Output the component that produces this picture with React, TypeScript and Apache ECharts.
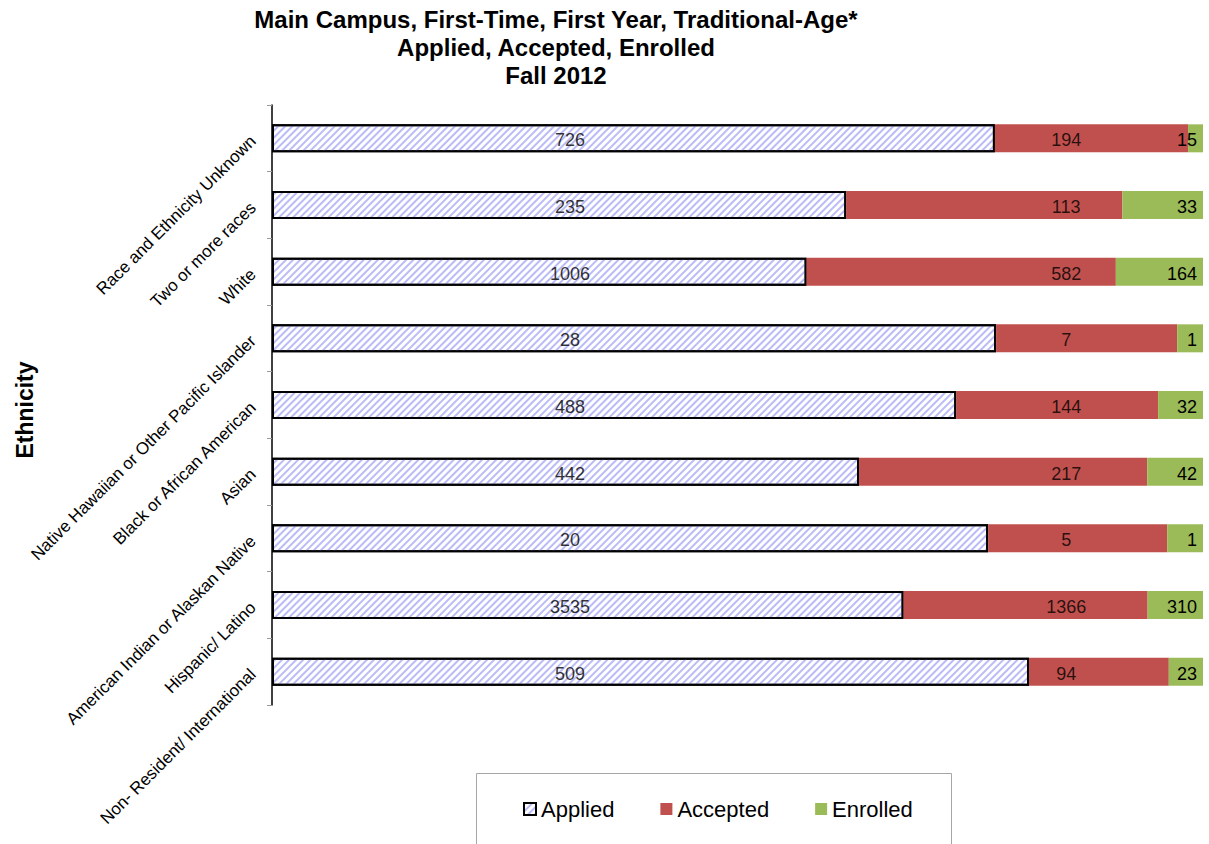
import React, { useEffect, useRef } from "react";
import * as echarts from "echarts";

const categories = [
  "Non- Resident/ International",
  "Hispanic/ Latino",
  "American Indian or Alaskan Native",
  "Asian",
  "Black or African American",
  "Native Hawaiian or Other Pacific Islander",
  "White",
  "Two or more races",
  "Race and Ethnicity Unknown",
];
const applied = [509, 3535, 20, 442, 488, 28, 1006, 235, 726];
const accepted = [94, 1366, 5, 217, 144, 7, 582, 113, 194];
const enrolled = [23, 310, 1, 42, 32, 1, 164, 33, 15];
const titleLines = [
  "Main Campus, First-Time, First Year, Traditional-Age*",
  "Applied, Accepted, Enrolled",
  "Fall 2012",
];
const axisTitle = "Ethnicity";

const FONT = "'Liberation Sans', Arial, sans-serif";

export default function App() {
  const ref = useRef<HTMLDivElement>(null);
  useEffect(() => {
    if (!ref.current) return;
    const chart = echarts.init(ref.current, null, { renderer: "svg" });
    const totals = categories.map((_, i) => applied[i] + accepted[i] + enrolled[i]);
    const pct = (arr: number[]) => arr.map((v, i) => (v / totals[i]) * 100);
    const APPLIED_LABEL_X = 32.0;
    const ACCEPTED_LABEL_X = 85.3;
    const labelStyle = {
      show: true,
      fontSize: 18,
      color: "#000",
      fontFamily: FONT,
    };
    chart.setOption({
      animation: false,
      textStyle: { fontFamily: FONT },
      grid: { left: 272, right: 6, top: 105, bottom: 139, containLabel: false },
      xAxis: { type: "value", min: 0, max: 100, show: false },
      yAxis: {
        type: "category",
        data: categories,
        axisLine: { show: true, lineStyle: { color: "#000", width: 1.5 } },
        axisTick: { show: true, length: 5, lineStyle: { color: "#999" } },
        axisLabel: { rotate: 45, margin: 19, fontSize: 17, color: "#000", fontFamily: FONT },
      },
      legend: {
        data: ["Applied", "Accepted", "Enrolled"],
        icon: "rect",
        left: 518,
        top: 793,
        itemWidth: 12,
        itemHeight: 12,
        itemGap: 46,
        textStyle: { fontSize: 22, color: "#000", fontFamily: FONT },
      },
      graphic: [
        {
          type: "text",
          x: 556,
          y: 5,
          style: {
            text: titleLines.join("\n"),
            textAlign: "center",
            font: "bold 24px 'Liberation Sans', Arial, sans-serif",
            lineHeight: 28,
            fill: "#000",
          },
        },
        {
          type: "text",
          x: 25,
          y: 410,
          rotation: Math.PI / 2,
          style: {
            text: axisTitle,
            textAlign: "center",
            textVerticalAlign: "middle",
            font: "bold 23px 'Liberation Sans', Arial, sans-serif",
            fill: "#000",
          },
        },
        {
          type: "rect",
          shape: { x: 476.5, y: 773.5, width: 475, height: 90 },
          style: { fill: "none", stroke: "#a6a6a6", lineWidth: 1 },
          z: -1,
        },
      ],
      series: [
        {
          name: "Applied",
          type: "bar",
          stack: "t",
          barWidth: 28,
          data: pct(applied),
          itemStyle: {
            color: "#ffffff",
            borderColor: "#000",
            borderWidth: 2,
            decal: {
              symbol: "rect",
              symbolSize: 1,
              dashArrayX: [1, 0],
              dashArrayY: [1.3, 2.2],
              rotation: -Math.PI / 4,
              color: "rgba(130,130,240,0.55)",
            },
          },
        },
        {
          name: "Accepted",
          type: "bar",
          stack: "t",
          barWidth: 28,
          data: pct(accepted),
          itemStyle: { color: "#C0504D" },
        },
        {
          name: "Enrolled",
          type: "bar",
          stack: "t",
          barWidth: 28,
          data: pct(enrolled),
          itemStyle: { color: "#9BBB59" },
          label: {
            ...labelStyle,
            position: "insideRight",
            distance: 6,
            offset: [0, 2],
            formatter: (p: any) => String(enrolled[p.dataIndex]),
          },
        },
        {
          name: "appliedLabels",
          type: "scatter",
          symbolSize: 0,
          silent: true,
          data: categories.map((c, i) => [APPLIED_LABEL_X, i]),
          label: {
            ...labelStyle,
            position: "inside",
            offset: [0, 2],
            formatter: (p: any) => String(applied[p.dataIndex]),
          },
          z: 5,
        },
        {
          name: "acceptedLabels",
          type: "scatter",
          symbolSize: 0,
          silent: true,
          data: categories.map((c, i) => [ACCEPTED_LABEL_X, i]),
          label: {
            ...labelStyle,
            position: "inside",
            offset: [0, 2],
            formatter: (p: any) => String(accepted[p.dataIndex]),
          },
          z: 5,
        },
      ],
    });
    return () => chart.dispose();
  }, []);
  return <div ref={ref} style={{ width: 1209, height: 844, position: "absolute", left: 0, top: 0 }} />;
}
